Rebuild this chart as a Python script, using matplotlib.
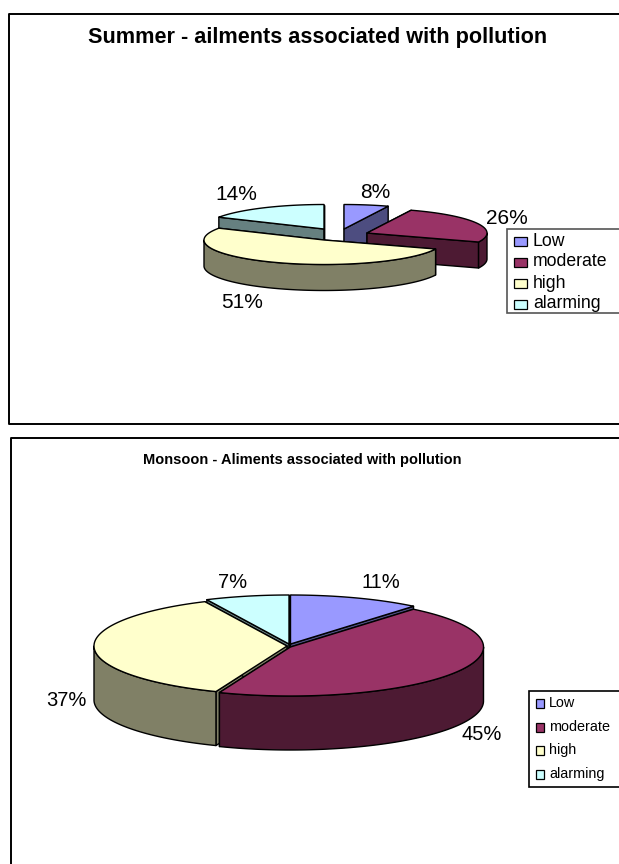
import numpy as np
import matplotlib
matplotlib.use('Agg')
import matplotlib.pyplot as plt
from matplotlib.patches import Polygon, Rectangle

plt.rcParams['font.family'] = ['Liberation Sans', 'DejaVu Sans']

categories = ['Low', 'moderate', 'high', 'alarming']
top_colors = ['#9999FF', '#993366', '#FFFFCC', '#CCFFFF']
side_colors = ['#4D4D80', '#4D1A33', '#808066', '#668080']

# summer: the wedges in the picture are not quite the size their labels say,
# so the drawn shares are read from the wedge shapes and the labels kept apart
summer_shares = [6, 25, 52, 17]
summer_labels = ['8%', '26%', '51%', '14%']
summer_title = 'Summer - ailments associated with pollution'

monsoon_shares = [11, 45, 37, 7]
monsoon_labels = ['11%', '45%', '37%', '7%']
monsoon_title = 'Monsoon - Aliments associated with pollution'


def arc(cx, cy, rx, ry, a0, a1):
    # angles in degrees, clockwise from 12 o'clock
    t = np.radians(np.linspace(a0, a1, max(int(abs(a1 - a0)) * 2, 2)))
    return np.column_stack([cx + rx * np.sin(t), cy - ry * np.cos(t)])


def draw_slice(ax, apex, rx, ry, depth, a0, a1, top, side):
    cx, cy = apex
    edge = dict(edgecolor='black', linewidth=1.0, joinstyle='round')
    rim = arc(cx, cy, rx, ry, a0, a1)
    # cut faces
    for p in (rim[0], rim[-1]):
        quad = [(cx, cy), p, (p[0], p[1] + depth), (cx, cy + depth)]
        ax.add_patch(Polygon(quad, facecolor=side, **edge))
    # outer wall, only the part that faces the viewer
    lo, hi = max(a0, 90), min(a1, 270)
    if hi > lo:
        wall = arc(cx, cy, rx, ry, lo, hi)
        low = wall[::-1] + [0, depth]
        ax.add_patch(Polygon(np.vstack([wall, low]), facecolor=side, **edge))
    ax.add_patch(Polygon(np.vstack([[(cx, cy)], rim]), facecolor=top, **edge))


def draw_pie(ax, shares, apexes, rx, ry, depth):
    edges = np.cumsum([0] + list(shares)) / sum(shares) * 360
    order = np.argsort([a[1] for a in apexes], kind='stable')
    for i in order:
        draw_slice(ax, apexes[i], rx, ry, depth, edges[i], edges[i + 1],
                   top_colors[i], side_colors[i])


def draw_legend(ax, box, rows, swatch_x, swatch_w, swatch_h, text_x, size, edge):
    ax.add_patch(Rectangle((box[0], box[1]), box[2], box[3], facecolor='white',
                           edgecolor=edge, linewidth=1.2, zorder=5))
    for name, color, y in zip(categories, top_colors, rows):
        ax.add_patch(Rectangle((swatch_x, y - swatch_h / 2), swatch_w, swatch_h,
                               facecolor=color, edgecolor='black', linewidth=0.9, zorder=6))
        ax.text(text_x, y, name, fontsize=size, va='center', ha='left', zorder=6)


fig = plt.figure(figsize=(6.19, 8.64), dpi=100)
ax = fig.add_axes([0, 0, 1, 1])
ax.set_xlim(0, 619)
ax.set_ylim(864, 0)
ax.axis('off')

# chart frames, both run off the right side of the page
ax.plot([619, 8.5, 8.5, 619], [13.5, 13.5, 423.5, 423.5], color='black', lw=1.4)
ax.plot([619, 11, 11], [437.5, 437.5, 864], color='black', lw=1.4)

# summer
draw_pie(ax, summer_shares, [(344, 229), (367, 233), (324, 240), (324, 229)], 120, 24.5, 26)
ax.text(318, 37, summer_title, fontsize=15.6, fontweight='bold', ha='center', va='center')
for label, x, y in zip(summer_labels, [375, 507, 242, 236], [192, 218, 303, 195]):
    ax.text(x, y, label, fontsize=15, ha='center', va='center')
draw_legend(ax, (507, 229, 120, 84), [241, 262, 283, 304], 514, 13, 9, 533, 12.7, '#555555')

# monsoon
draw_pie(ax, monsoon_shares, [(290.5, 644), (290.5, 647), (287, 646), (289, 644)], 193, 49, 54)
ax.text(302, 460, monsoon_title, fontsize=10.5, fontweight='bold', ha='center', va='center')
for label, x, y in zip(monsoon_labels, [381, 482, 66, 233], [582, 734, 701, 582]):
    ax.text(x, y, label, fontsize=14.5, ha='center', va='center')
draw_legend(ax, (529, 691, 100, 96), [703, 727, 750, 774], 536, 8, 9, 549, 10.4, 'black')

fig.savefig('out.png', dpi=100)
